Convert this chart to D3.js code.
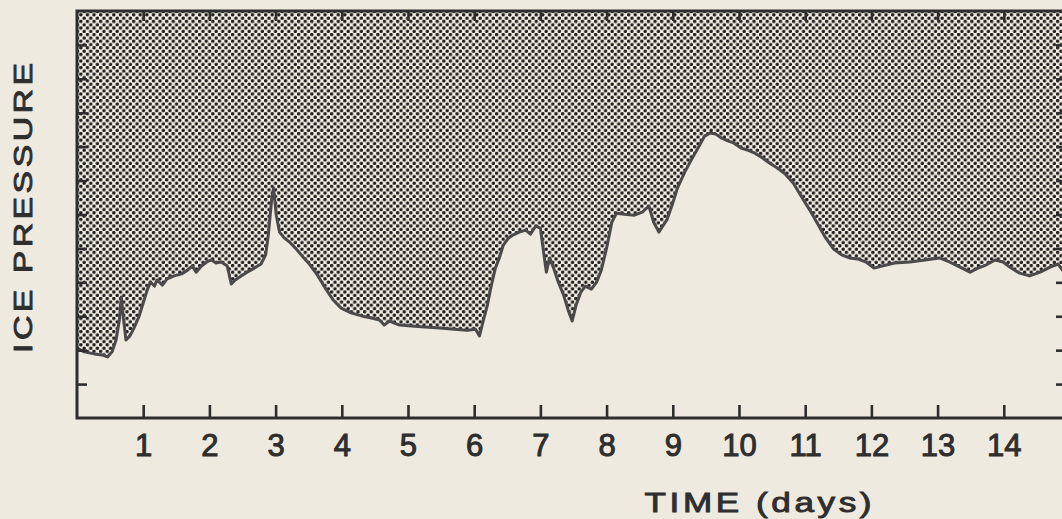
<!DOCTYPE html>
<html>
<head>
<meta charset="utf-8">
<script src="https://cdn.jsdelivr.net/npm/d3@7"></script>
<style>
  html, body { margin: 0; padding: 0; background: #efeadf; }
  svg { display: block; }
</style>
</head>
<body>
<svg id="chart" width="1062" height="519"></svg>
<script>
// ---- data ----
const days = [0.00,0.11,0.26,0.38,0.46,0.53,0.59,0.64,0.67,0.70,0.74,0.80,0.86,0.94,1.00,1.06,1.11,1.17,1.21,1.29,
  1.36,1.47,1.58,1.67,1.74,1.80,1.88,1.96,2.03,2.10,2.18,2.27,2.33,2.39,2.48,2.57,2.68,2.78,2.85,2.89,
  2.94,2.97,3.01,3.06,3.13,3.21,3.30,3.40,3.51,3.63,3.75,3.87,3.99,4.14,4.30,4.45,4.57,4.64,4.72,4.87,
  5.05,5.25,5.48,5.70,5.90,6.02,6.08,6.14,6.20,6.26,6.32,6.38,6.44,6.52,6.59,6.68,6.78,6.85,6.93,7.00,
  7.06,7.09,7.14,7.20,7.27,7.35,7.42,7.48,7.54,7.61,7.68,7.77,7.85,7.92,8.00,8.08,8.15,8.27,8.42,8.54,
  8.64,8.71,8.79,8.85,8.91,8.99,9.07,9.18,9.28,9.39,9.48,9.56,9.65,9.74,9.83,9.92,10.03,10.13,10.24,10.34,
  10.46,10.58,10.70,10.82,10.94,11.07,11.19,11.31,11.43,11.55,11.67,11.79,11.92,12.04,12.16,12.35,12.58,12.81,13.03,13.18,
  13.37,13.49,13.61,13.73,13.87,13.99,14.09,14.24,14.39,14.55,14.70,14.82,14.94];
const pressure = [2.06,1.95,1.89,1.86,1.80,1.95,2.30,2.89,3.57,2.95,2.30,2.42,2.65,3.01,3.39,3.77,4.01,3.89,4.07,3.92,
  4.10,4.19,4.25,4.36,4.48,4.30,4.48,4.60,4.66,4.57,4.60,4.48,3.95,4.07,4.19,4.30,4.42,4.54,4.81,5.40,
  6.43,6.78,5.98,5.48,5.31,5.19,5.01,4.78,4.54,4.22,3.83,3.48,3.24,3.10,3.01,2.95,2.89,2.74,2.86,2.74,
  2.71,2.68,2.65,2.62,2.59,2.62,2.42,2.89,3.33,3.92,4.42,4.72,5.10,5.31,5.40,5.48,5.54,5.42,5.66,5.60,
  4.72,4.30,4.72,4.42,4.01,3.63,3.18,2.86,3.33,3.71,3.89,3.80,4.01,4.36,5.01,5.78,6.04,6.01,5.98,6.07,
  6.25,5.78,5.48,5.66,5.84,6.28,6.78,7.25,7.61,7.99,8.31,8.40,8.37,8.25,8.17,8.11,7.96,7.90,7.81,7.69,
  7.52,7.37,7.19,6.93,6.54,6.13,5.72,5.31,4.98,4.81,4.72,4.69,4.60,4.42,4.48,4.57,4.60,4.66,4.72,4.60,
  4.42,4.30,4.42,4.51,4.66,4.60,4.45,4.27,4.19,4.30,4.45,4.54,4.22];
const xTicks = [1,2,3,4,5,6,7,8,9,10,11,12,13,14];
const yTicks = [1,2,3,4,5,6,7,8,9,10,11];
const xTitle = "TIME (days)";
const yTitle = "ICE PRESSURE";

// ---- layout ----
const L = 77, R = 1066, T = 11, B = 418;
const svg = d3.select("#chart");
const ink = "#2e2e2e";
const font = "Liberation Sans, Arial, sans-serif";

const x = d3.scaleLinear().domain([0, 14.94]).range([L, R]);
const y = d3.scaleLinear().domain([0, 12]).range([B, T]);

const data = days.map((d, i) => ({ d, v: pressure[i] }));

// dot pattern
const defs = svg.append("defs");
const P = 6.6;
const pat = defs.append("pattern")
  .attr("id", "dots").attr("patternUnits", "userSpaceOnUse")
  .attr("width", P).attr("height", P);
pat.append("rect").attr("width", P).attr("height", P).attr("fill", "#f3efe4");
pat.append("circle").attr("cx", P / 4).attr("cy", P / 4).attr("r", 1.75).attr("fill", "#1f1f1f");
pat.append("circle").attr("cx", 3 * P / 4).attr("cy", 3 * P / 4).attr("r", 1.75).attr("fill", "#1f1f1f");

svg.append("rect").attr("width", 1062).attr("height", 519).attr("fill", "#efeadf");

// shaded area above curve
const area = d3.area().x(p => x(p.d)).y0(y(12)).y1(p => y(p.v));
svg.append("path").datum(data).attr("d", area).attr("fill", "url(#dots)");

// curve
const line = d3.line().x(p => x(p.d)).y(p => y(p.v));
svg.append("path").datum(data).attr("d", line)
  .attr("fill", "none").attr("stroke", "#4a4a4a").attr("stroke-width", 3)
  .attr("stroke-linejoin", "round");

// axes
function styleAxis(g) {
  g.select(".domain").remove();
  g.selectAll(".tick line").attr("stroke", ink).attr("stroke-width", 2.6);
  g.selectAll(".tick text").attr("fill", ink).attr("font-family", font)
    .attr("font-size", 31).attr("stroke", ink).attr("stroke-width", 1);
}
svg.append("g").attr("transform", `translate(0,${B})`)
  .call(d3.axisBottom(x).tickValues(xTicks).tickSize(-13).tickPadding(16).tickFormat(d3.format("d")))
  .call(styleAxis);
svg.append("g").attr("transform", `translate(0,${T})`)
  .call(d3.axisTop(x).tickValues(xTicks).tickSize(-10).tickFormat(""))
  .call(styleAxis);
svg.append("g").attr("transform", `translate(${L},0)`)
  .call(d3.axisLeft(y).tickValues(yTicks).tickSize(-10).tickFormat(""))
  .call(styleAxis);
svg.append("g").attr("transform", `translate(${R},0)`)
  .call(d3.axisRight(y).tickValues(yTicks).tickSize(-10).tickFormat(""))
  .call(styleAxis);

// frame
svg.append("rect").attr("x", L).attr("y", T).attr("width", R - L).attr("height", B - T)
  .attr("fill", "none").attr("stroke", ink).attr("stroke-width", 3);

// titles (wide lettering: stretched horizontally)
const sx = 1.3;
svg.append("text").attr("transform", `translate(758,512) scale(${sx},1)`).attr("text-anchor", "middle")
  .attr("font-family", font).attr("font-size", 27)
  .attr("fill", ink).attr("stroke", ink).attr("stroke-width", 0.9)
  .attr("textLength", 227 / sx).attr("lengthAdjust", "spacing")
  .text(xTitle);
svg.append("text").attr("transform", `translate(23,208) rotate(-90) scale(${sx},1)`)
  .attr("text-anchor", "middle").attr("dy", "0.36em")
  .attr("font-family", font).attr("font-size", 26)
  .attr("fill", ink).attr("stroke", ink).attr("stroke-width", 0.9)
  .attr("textLength", 290 / sx).attr("lengthAdjust", "spacing")
  .text(yTitle);
</script>
</body>
</html>
